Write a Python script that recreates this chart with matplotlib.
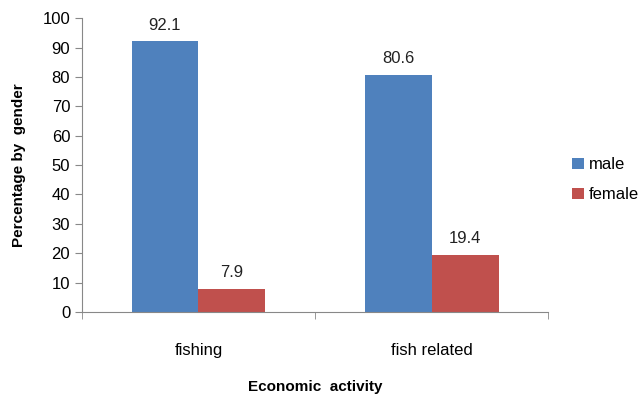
import numpy as np
import matplotlib
matplotlib.use("Agg")
import matplotlib.pyplot as plt

categories = ["fishing", "fish related"]
male = [92.1, 80.6]
female = [7.9, 19.4]

plt.rcParams['font.family'] = ['Liberation Sans Narrow', 'Liberation Sans', 'DejaVu Sans']

fig = plt.figure(figsize=(6.38, 3.94), dpi=100)
ax = fig.add_axes([0.1285, 0.208, 0.7305, 0.746])

x = np.arange(len(categories))
w = 0.2875
b1 = ax.bar(x - w / 2, male, w, color="#4F81BD", label="male")
b2 = ax.bar(x + w / 2, female, w, color="#C0504D", label="female")

for bars, vals in ((b1, male), (b2, female)):
    for r, v in zip(bars, vals):
        ax.text(r.get_x() + r.get_width() / 2, v + 3, f"{v}", ha="center",
                va="bottom", fontsize=12, color="#222222")

ax.set_xlim(-0.5, 1.5)
ax.set_ylim(0, 100)
ax.set_yticks(range(0, 101, 10))
ax.set_xticks(x)
ax.set_xticklabels(categories, fontsize=12)
ax.set_xticks([-0.5, 0.5, 1.5], minor=True)
ax.tick_params(axis="x", which="major", length=0, pad=22)
ax.tick_params(axis="x", which="minor", length=5, color="#888888")
ax.tick_params(axis="y", labelsize=12, length=5, color="#888888")
for s in ("top", "right"):
    ax.spines[s].set_visible(False)
for s in ("left", "bottom"):
    ax.spines[s].set_color("#888888")

ax.set_ylabel("Percentage by  gender", fontsize=11, fontweight="bold", labelpad=12)
ax.set_xlabel("Economic  activity", fontsize=11, fontweight="bold", labelpad=16)

ax.legend(loc="center left", bbox_to_anchor=(1.02, 0.45), frameon=False,
          fontsize=12, handlelength=0.7, handleheight=0.7, handletextpad=0.3,
          labelspacing=0.9)

fig.savefig("out.png", dpi=100)
